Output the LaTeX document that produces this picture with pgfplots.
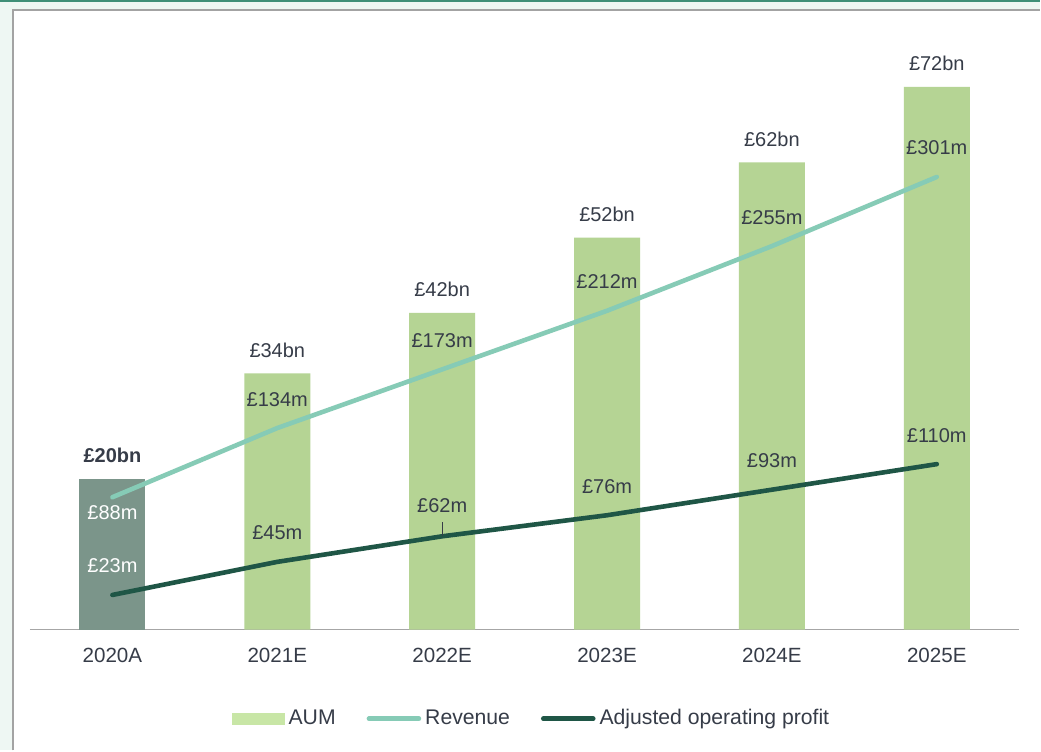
\documentclass[border=0pt]{standalone}
\usepackage{pgfplots}
\pgfplotsset{compat=1.18}
\usepackage{fontspec}
\setmainfont{Liberation Sans}
\newcommand\lab{\fontsize{10}{12}\selectfont}
\definecolor{mint}{HTML}{EEF7F3}
\definecolor{tealband}{HTML}{3F8F77}
\definecolor{framegray}{HTML}{A3A3A3}
\definecolor{axisgray}{HTML}{A6A6A6}
\definecolor{barg}{HTML}{B5D494}
\definecolor{barA}{HTML}{7B958A}
\definecolor{legA}{HTML}{C8E6A6}
\definecolor{revc}{HTML}{86CBB6}
\definecolor{profc}{HTML}{1F5646}
\definecolor{txt}{HTML}{363C48}
\begin{document}
\begin{tikzpicture}
% background and frame
\fill[mint] (-15pt,-60.5pt) rectangle (505.5pt,315pt);
\fill[tealband] (-15pt,314pt) rectangle (505.5pt,315pt);
\fill[white] (-9pt,-60.5pt) rectangle (505.5pt,310.5pt);
\draw[framegray, line width=0.8pt] (-8.6pt,-60.5pt) -- (-8.6pt,310.1pt) -- (505.5pt,310.1pt);
% bars (AUM, £bn)
\begin{axis}[at={(0pt,0pt)}, anchor=south west, scale only axis,
  width=495pt, height=301.7pt,
  xmin=-0.5, xmax=5.5, ymin=0, ymax=80,
  axis x line*=bottom, axis y line=none,
  x axis line style={draw=axisgray, line width=0.8pt},
  xtick={0,1,2,3,4,5},
  xticklabels={2020A,2021E,2022E,2023E,2024E,2025E},
  major tick length=0pt, ytick=\empty,
  xticklabel style={font=\fontsize{10.3}{12}\selectfont, text=txt, yshift=-5.6pt},
  clip=false]
\addplot[ybar, bar shift=0pt, bar width=33pt, fill=barA, draw=none,
  nodes near coords, point meta=explicit symbolic,
  every node near coord/.style={anchor=base, yshift=8pt, text=txt, font=\lab\bfseries}]
  table[meta=l] {
x y l
0 20 £20bn
};
\addplot[ybar, bar shift=0pt, bar width=33pt, fill=barg, draw=none,
  nodes near coords, point meta=explicit symbolic,
  every node near coord/.style={anchor=base, yshift=8pt, text=txt, font=\lab}]
  table[meta=l] {
x y l
1 34 £34bn
2 42 £42bn
3 52 £52bn
4 62 £62bn
5 72 £72bn
};
\end{axis}
% lines (£m)
\begin{axis}[at={(0pt,0pt)}, anchor=south west, scale only axis,
  width=495pt, height=301.7pt,
  xmin=-0.5, xmax=5.5, ymin=0, ymax=401,
  hide axis, clip=false,
  legend image code/.code={\draw[#1, line cap=round] (1.2pt,0pt) -- (26.2pt,0pt);},
  legend style={at={(axis description cs:0.508,-0.148)}, anchor=center,
    draw=none, fill=none, font=\fontsize{10.6}{12}\selectfont, text=txt,
    /tikz/every even column/.append style={column sep=13.5pt}},
  legend columns=3, legend cell align=left]
\addlegendimage{legend image code/.code={\fill[legA] (0pt,-2.75pt) rectangle (26pt,2.75pt);}}
\addlegendentry{AUM}
\addplot[revc, line width=2.3pt, line cap=round,
  nodes near coords, point meta=explicit symbolic,
  visualization depends on={\thisrow{dy} \as \dy},
  every node near coord/.style={anchor=base, yshift=\dy pt, text=txt, font=\lab}]
  table[meta=l] {
x y l dy
0 88 {\color{white}£88m} -11
1 134 £134m 11
2 173 £173m 11
3 212 £212m 11
4 255 £255m 11
5 301 £301m 11
};
\addlegendentry{Revenue}
\addplot[profc, line width=2.3pt, line cap=round,
  nodes near coords, point meta=explicit symbolic,
  visualization depends on={\thisrow{dy} \as \dy},
  every node near coord/.style={anchor=base, yshift=\dy pt, text=txt, font=\lab}]
  table[meta=l] {
x y l dy
0 23 {\color{white}£23m} 11
1 45 £45m 11
2 62 £62m 12
3 76 £76m 11
4 93 £93m 11
5 110 £110m 11
};
\addlegendentry{Adjusted operating profit}
\draw[txt, line width=0.6pt] (axis cs:2,62) -- ++(0pt,7pt);
\end{axis}
\end{tikzpicture}
\end{document}
